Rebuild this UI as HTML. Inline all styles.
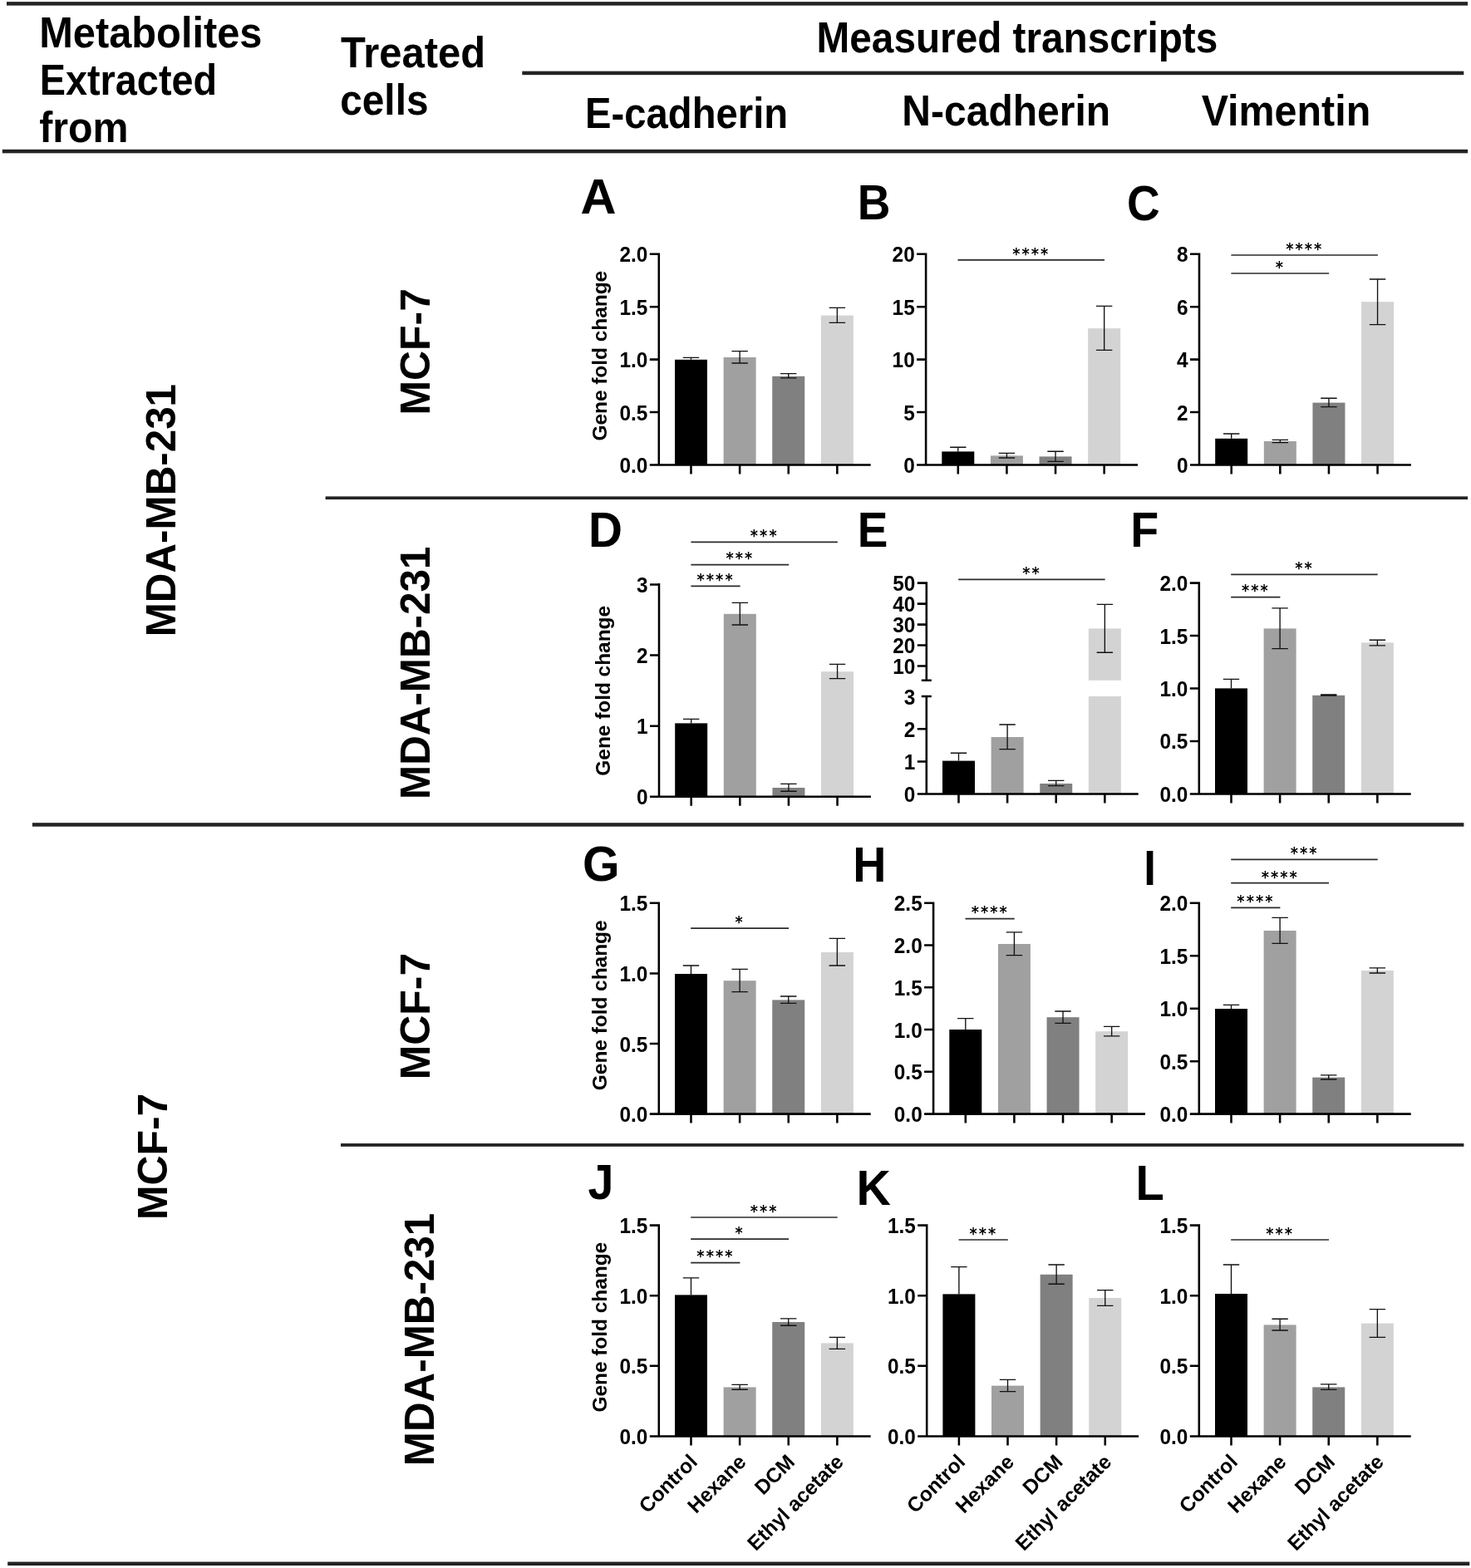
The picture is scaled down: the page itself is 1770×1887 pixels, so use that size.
<!DOCTYPE html>
<html lang="en">
<head>
<meta charset="utf-8">
<title>Gene fold change of EMT transcripts</title>
<style>
html,body{margin:0;padding:0;background:#fff;}
body{width:1770px;height:1887px;overflow:hidden;}
svg{display:block;}
svg text{font-family:"Liberation Sans",sans-serif;font-weight:bold;fill:#000;}
svg text.st{font-family:"DejaVu Sans","Liberation Sans",sans-serif;font-weight:bold;font-size:19.6px;letter-spacing:2.29px;}
</style>
</head>
<body>
<svg width="1770" height="1887" viewBox="0 0 1770 1887">
<rect width="1770" height="1887" fill="#ffffff"/>
<rect x="8" y="2.15" width="1758.1" height="4.5" fill="#232323"/>
<rect x="628.3" y="85.65" width="1133" height="4.5" fill="#232323"/>
<rect x="2.8" y="179.85" width="1763.3" height="4.5" fill="#232323"/>
<rect x="391.6" y="597.4" width="1374.5" height="3.7" fill="#232323"/>
<rect x="38.9" y="990.2" width="1722.5" height="4.5" fill="#232323"/>
<rect x="410" y="1376.05" width="1351.4" height="3.8" fill="#232323"/>
<rect x="9.2" y="1879.55" width="1759.1" height="4.5" fill="#232323"/>
<text x="47.24" y="57.4" font-size="51.5" textLength="268.26" lengthAdjust="spacingAndGlyphs">Metabolites</text>
<text x="47.77" y="114.1" font-size="51.5" textLength="213.32" lengthAdjust="spacingAndGlyphs">Extracted</text>
<text x="47.17" y="171" font-size="51.5" textLength="107.42" lengthAdjust="spacingAndGlyphs">from</text>
<text x="410.06" y="81" font-size="51.5" textLength="174.12" lengthAdjust="spacingAndGlyphs">Treated</text>
<text x="409.13" y="137.5" font-size="51.5" textLength="106.43" lengthAdjust="spacingAndGlyphs">cells</text>
<text x="982.56" y="63.1" font-size="51.5" textLength="482.7" lengthAdjust="spacingAndGlyphs">Measured transcripts</text>
<text x="704.04" y="153.75" font-size="51.5" textLength="244.09" lengthAdjust="spacingAndGlyphs">E-cadherin</text>
<text x="1085.29" y="151.1" font-size="51.5" textLength="250.94" lengthAdjust="spacingAndGlyphs">N-cadherin</text>
<text x="1445.67" y="151.25" font-size="51.5" textLength="203.57" lengthAdjust="spacingAndGlyphs">Vimentin</text>
<text transform="translate(210.8 614.1) rotate(-90)" font-size="49.35" text-anchor="middle">MDA-MB-231</text>
<text transform="translate(200.5 1391.9) rotate(-90)" font-size="49.9" text-anchor="middle">MCF-7</text>
<text transform="translate(517 423.3) rotate(-90)" font-size="49.9" text-anchor="middle">MCF-7</text>
<text transform="translate(517 809.8) rotate(-90)" font-size="49.35" text-anchor="middle">MDA-MB-231</text>
<text transform="translate(517 1223) rotate(-90)" font-size="49.9" text-anchor="middle">MCF-7</text>
<text transform="translate(522 1612) rotate(-90)" font-size="49.35" text-anchor="middle">MDA-MB-231</text>
<rect x="812" y="432.8" width="39" height="126.7" fill="#000000"/>
<rect x="870.62" y="430" width="39" height="129.5" fill="#a0a0a0"/>
<rect x="929.24" y="452.8" width="39" height="106.7" fill="#808080"/>
<rect x="987.86" y="379.6" width="39" height="179.9" fill="#d3d3d3"/>
<path d="M821.8 430.3H841.2M831.5 430.3V432.8" stroke="#111111" stroke-width="1.35" fill="none"/>
<path d="M880.42 422.6H899.82M890.12 422.6V437M880.42 437H899.82" stroke="#111111" stroke-width="1.35" fill="none"/>
<path d="M939.04 449.6H958.44M948.74 449.6V454.8M939.04 454.8H958.44" stroke="#111111" stroke-width="1.35" fill="none"/>
<path d="M997.66 370.4H1017.06M1007.36 370.4V388.4M997.66 388.4H1017.06" stroke="#111111" stroke-width="1.35" fill="none"/>
<path d="M781.8 559.5H1047.7M831.5 559.5V570.5M890.12 559.5V570.5M948.74 559.5V570.5M1007.36 559.5V570.5M792.8 559.5V304.43M781.8 496.05H792.8M781.8 432.6H792.8M781.8 369.15H792.8M781.8 305.7H792.8" stroke="#000" stroke-width="2.55" fill="none"/>
<text transform="translate(779.4 569) scale(1 1.03)" font-size="24.4" text-anchor="end">0.0</text>
<text transform="translate(779.4 505.55) scale(1 1.03)" font-size="24.4" text-anchor="end">0.5</text>
<text transform="translate(779.4 442.1) scale(1 1.03)" font-size="24.4" text-anchor="end">1.0</text>
<text transform="translate(779.4 378.65) scale(1 1.03)" font-size="24.4" text-anchor="end">1.5</text>
<text transform="translate(779.4 315.2) scale(1 1.03)" font-size="24.4" text-anchor="end">2.0</text>
<text transform="translate(730.4 428.2) rotate(-90)" font-size="24.4" text-anchor="middle">Gene fold change</text>
<text transform="translate(698.42 257) scale(1.04 1.03)" font-size="57.3">A</text>
<rect x="1133.3" y="543.4" width="39" height="16.1" fill="#000000"/>
<rect x="1191.92" y="548.4" width="39" height="11.1" fill="#a0a0a0"/>
<rect x="1250.54" y="549.4" width="39" height="10.1" fill="#808080"/>
<rect x="1309.16" y="395.2" width="39" height="164.3" fill="#d3d3d3"/>
<path d="M1143.1 538.2H1162.5M1152.8 538.2V543.4" stroke="#111111" stroke-width="1.35" fill="none"/>
<path d="M1201.72 545.4H1221.12M1211.42 545.4V551M1201.72 551H1221.12" stroke="#111111" stroke-width="1.35" fill="none"/>
<path d="M1260.34 543.2H1279.74M1270.04 543.2V555.4M1260.34 555.4H1279.74" stroke="#111111" stroke-width="1.35" fill="none"/>
<path d="M1318.96 368.4H1338.36M1328.66 368.4V421.4M1318.96 421.4H1338.36" stroke="#111111" stroke-width="1.35" fill="none"/>
<path d="M1103.1 559.5H1369M1152.8 559.5V570.5M1211.42 559.5V570.5M1270.04 559.5V570.5M1328.66 559.5V570.5M1114.1 559.5V304.43M1103.1 496.05H1114.1M1103.1 432.6H1114.1M1103.1 369.15H1114.1M1103.1 305.7H1114.1" stroke="#000" stroke-width="2.55" fill="none"/>
<text transform="translate(1100.7 569) scale(1 1.03)" font-size="24.4" text-anchor="end">0</text>
<text transform="translate(1100.7 505.55) scale(1 1.03)" font-size="24.4" text-anchor="end">5</text>
<text transform="translate(1100.7 442.1) scale(1 1.03)" font-size="24.4" text-anchor="end">10</text>
<text transform="translate(1100.7 378.65) scale(1 1.03)" font-size="24.4" text-anchor="end">15</text>
<text transform="translate(1100.7 315.2) scale(1 1.03)" font-size="24.4" text-anchor="end">20</text>
<line x1="1152.5" y1="312.8" x2="1328.96" y2="312.8" stroke="#2a2a2a" stroke-width="1.7"/>
<text class="st" transform="translate(1218.29 311.65) scale(0.9 1)">****</text>
<text transform="translate(1031.64 264.4) scale(0.96 1.03)" font-size="57.3">B</text>
<rect x="1462.2" y="527.8" width="39" height="31.7" fill="#000000"/>
<rect x="1520.82" y="531" width="39" height="28.5" fill="#a0a0a0"/>
<rect x="1579.44" y="484.6" width="39" height="74.9" fill="#808080"/>
<rect x="1638.06" y="363.2" width="39" height="196.3" fill="#d3d3d3"/>
<path d="M1472 522H1491.4M1481.7 522V527.8" stroke="#111111" stroke-width="1.35" fill="none"/>
<path d="M1530.62 529.4H1550.02M1540.32 529.4V532.6M1530.62 532.6H1550.02" stroke="#111111" stroke-width="1.35" fill="none"/>
<path d="M1589.24 479.2H1608.64M1598.94 479.2V489.6M1589.24 489.6H1608.64" stroke="#111111" stroke-width="1.35" fill="none"/>
<path d="M1647.86 336H1667.26M1657.56 336V390.6M1647.86 390.6H1667.26" stroke="#111111" stroke-width="1.35" fill="none"/>
<path d="M1432 559.5H1697.9M1481.7 559.5V570.5M1540.32 559.5V570.5M1598.94 559.5V570.5M1657.56 559.5V570.5M1443 559.5V304.43M1432 496.05H1443M1432 432.6H1443M1432 369.15H1443M1432 305.7H1443" stroke="#000" stroke-width="2.55" fill="none"/>
<text transform="translate(1429.6 569) scale(1 1.03)" font-size="24.4" text-anchor="end">0</text>
<text transform="translate(1429.6 505.55) scale(1 1.03)" font-size="24.4" text-anchor="end">2</text>
<text transform="translate(1429.6 442.1) scale(1 1.03)" font-size="24.4" text-anchor="end">4</text>
<text transform="translate(1429.6 378.65) scale(1 1.03)" font-size="24.4" text-anchor="end">6</text>
<text transform="translate(1429.6 315.2) scale(1 1.03)" font-size="24.4" text-anchor="end">8</text>
<line x1="1481.4" y1="307" x2="1657.86" y2="307" stroke="#2a2a2a" stroke-width="1.7"/>
<text class="st" transform="translate(1547.19 305.85) scale(0.9 1)">****</text>
<line x1="1481.4" y1="329" x2="1599.24" y2="329" stroke="#2a2a2a" stroke-width="1.7"/>
<text class="st" transform="translate(1534.81 327.85) scale(0.9 1)">*</text>
<text transform="translate(1356.05 264.6) scale(0.96 1.03)" font-size="57.3">C</text>
<rect x="812.2" y="870.4" width="39" height="88.4" fill="#000000"/>
<rect x="870.82" y="738.8" width="39" height="220" fill="#a0a0a0"/>
<rect x="929.44" y="948" width="39" height="10.8" fill="#808080"/>
<rect x="988.06" y="808.2" width="39" height="150.6" fill="#d3d3d3"/>
<path d="M822 865.4H841.4M831.7 865.4V870.4" stroke="#111111" stroke-width="1.35" fill="none"/>
<path d="M880.62 725.4H900.02M890.32 725.4V752M880.62 752H900.02" stroke="#111111" stroke-width="1.35" fill="none"/>
<path d="M939.24 943.4H958.64M948.94 943.4V952.2M939.24 952.2H958.64" stroke="#111111" stroke-width="1.35" fill="none"/>
<path d="M997.86 799.4H1017.26M1007.56 799.4V816.6M997.86 816.6H1017.26" stroke="#111111" stroke-width="1.35" fill="none"/>
<path d="M782 958.8H1047.9M831.7 958.8V969.8M890.32 958.8V969.8M948.94 958.8V969.8M1007.56 958.8V969.8M793 958.8V702.12M782 873.67H793M782 788.53H793M782 703.4H793" stroke="#000" stroke-width="2.55" fill="none"/>
<text transform="translate(779.6 968.3) scale(1 1.03)" font-size="24.4" text-anchor="end">0</text>
<text transform="translate(779.6 883.17) scale(1 1.03)" font-size="24.4" text-anchor="end">1</text>
<text transform="translate(779.6 798.03) scale(1 1.03)" font-size="24.4" text-anchor="end">2</text>
<text transform="translate(779.6 712.9) scale(1 1.03)" font-size="24.4" text-anchor="end">3</text>
<text transform="translate(734 831.3) rotate(-90)" font-size="24.4" text-anchor="middle">Gene fold change</text>
<line x1="831.4" y1="652.4" x2="1007.86" y2="652.4" stroke="#2a2a2a" stroke-width="1.7"/>
<text class="st" transform="translate(902.83 651.25) scale(0.9 1)">***</text>
<line x1="831.4" y1="679.6" x2="949.24" y2="679.6" stroke="#2a2a2a" stroke-width="1.7"/>
<text class="st" transform="translate(873.52 678.45) scale(0.9 1)">***</text>
<line x1="831.4" y1="705.4" x2="890.62" y2="705.4" stroke="#2a2a2a" stroke-width="1.7"/>
<text class="st" transform="translate(838.57 704.05) scale(0.9 1)">****</text>
<text transform="translate(708.1 658) scale(0.99 1.03)" font-size="57.3">D</text>
<rect x="1134" y="915.6" width="39" height="39.8" fill="#000000"/>
<rect x="1192.62" y="887" width="39" height="68.4" fill="#a0a0a0"/>
<rect x="1251.24" y="943" width="39" height="12.4" fill="#808080"/>
<rect x="1309.86" y="838" width="39" height="117.4" fill="#d3d3d3"/>
<rect x="1309.86" y="756.4" width="39" height="62.4" fill="#d3d3d3"/>
<path d="M1143.8 906.2H1163.2M1153.5 906.2V915.6" stroke="#111111" stroke-width="1.35" fill="none"/>
<path d="M1202.42 872H1221.82M1212.12 872V901.6M1202.42 901.6H1221.82" stroke="#111111" stroke-width="1.35" fill="none"/>
<path d="M1261.04 939.4H1280.44M1270.74 939.4V945.6M1261.04 945.6H1280.44" stroke="#111111" stroke-width="1.35" fill="none"/>
<path d="M1319.66 727.4H1339.06M1329.36 727.4V785.2M1319.66 785.2H1339.06" stroke="#111111" stroke-width="1.35" fill="none"/>
<path d="M1103.8 955.4H1369.7M1153.5 955.4V966.4M1212.12 955.4V966.4M1270.74 955.4V966.4M1329.36 955.4V966.4M1114.8 955.4V836.73M1108.8 838H1120.8M1114.8 820.07V700.33M1108.8 818.8H1120.8M1103.8 916.4H1114.8M1103.8 877.2H1114.8M1103.8 801.4H1114.8M1103.8 776.4H1114.8M1103.8 751.6H1114.8M1103.8 726.6H1114.8M1103.8 701.6H1114.8" stroke="#000" stroke-width="2.55" fill="none"/>
<text transform="translate(1101.4 964.9) scale(1 1.03)" font-size="24.4" text-anchor="end">0</text>
<text transform="translate(1101.4 925.9) scale(1 1.03)" font-size="24.4" text-anchor="end">1</text>
<text transform="translate(1101.4 886.7) scale(1 1.03)" font-size="24.4" text-anchor="end">2</text>
<text transform="translate(1101.4 847.5) scale(1 1.03)" font-size="24.4" text-anchor="end">3</text>
<text transform="translate(1101.4 810.9) scale(1 1.03)" font-size="24.4" text-anchor="end">10</text>
<text transform="translate(1101.4 785.9) scale(1 1.03)" font-size="24.4" text-anchor="end">20</text>
<text transform="translate(1101.4 761.1) scale(1 1.03)" font-size="24.4" text-anchor="end">30</text>
<text transform="translate(1101.4 736.1) scale(1 1.03)" font-size="24.4" text-anchor="end">40</text>
<text transform="translate(1101.4 711.1) scale(1 1.03)" font-size="24.4" text-anchor="end">50</text>
<line x1="1153.2" y1="697.4" x2="1329.66" y2="697.4" stroke="#2a2a2a" stroke-width="1.7"/>
<text class="st" transform="translate(1230.27 696.25) scale(0.9 1)">**</text>
<text transform="translate(1031.63 658) scale(0.96 1.03)" font-size="57.3">E</text>
<rect x="1462" y="828.4" width="39" height="127" fill="#000000"/>
<rect x="1520.62" y="756.4" width="39" height="199" fill="#a0a0a0"/>
<rect x="1579.24" y="836.8" width="39" height="118.6" fill="#808080"/>
<rect x="1637.86" y="773.4" width="39" height="182" fill="#d3d3d3"/>
<path d="M1471.8 817.4H1491.2M1481.5 817.4V828.4" stroke="#111111" stroke-width="1.35" fill="none"/>
<path d="M1530.42 731.8H1549.82M1540.12 731.8V780.6M1530.42 780.6H1549.82" stroke="#111111" stroke-width="1.35" fill="none"/>
<path d="M1589.04 835.9H1608.44M1598.74 835.9V837.1M1589.04 837.1H1608.44" stroke="#111111" stroke-width="1.35" fill="none"/>
<path d="M1647.66 770.2H1667.06M1657.36 770.2V776.8M1647.66 776.8H1667.06" stroke="#111111" stroke-width="1.35" fill="none"/>
<path d="M1431.8 955.4H1697.7M1481.5 955.4V966.4M1540.12 955.4V966.4M1598.74 955.4V966.4M1657.36 955.4V966.4M1442.8 955.4V700.33M1431.8 891.95H1442.8M1431.8 828.5H1442.8M1431.8 765.05H1442.8M1431.8 701.6H1442.8" stroke="#000" stroke-width="2.55" fill="none"/>
<text transform="translate(1429.4 964.9) scale(1 1.03)" font-size="24.4" text-anchor="end">0.0</text>
<text transform="translate(1429.4 901.45) scale(1 1.03)" font-size="24.4" text-anchor="end">0.5</text>
<text transform="translate(1429.4 838) scale(1 1.03)" font-size="24.4" text-anchor="end">1.0</text>
<text transform="translate(1429.4 774.55) scale(1 1.03)" font-size="24.4" text-anchor="end">1.5</text>
<text transform="translate(1429.4 711.1) scale(1 1.03)" font-size="24.4" text-anchor="end">2.0</text>
<line x1="1481.2" y1="691.4" x2="1657.66" y2="691.4" stroke="#2a2a2a" stroke-width="1.7"/>
<text class="st" transform="translate(1558.27 690.25) scale(0.9 1)">**</text>
<line x1="1481.2" y1="718.6" x2="1540.42" y2="718.6" stroke="#2a2a2a" stroke-width="1.7"/>
<text class="st" transform="translate(1494.01 717.25) scale(0.9 1)">***</text>
<text transform="translate(1360.18 658) scale(0.97 1.03)" font-size="57.3">F</text>
<rect x="812" y="1172" width="39" height="168.6" fill="#000000"/>
<rect x="870.62" y="1180.2" width="39" height="160.4" fill="#a0a0a0"/>
<rect x="929.24" y="1203.4" width="39" height="137.2" fill="#808080"/>
<rect x="987.86" y="1146" width="39" height="194.6" fill="#d3d3d3"/>
<path d="M821.8 1162H841.2M831.5 1162V1172" stroke="#111111" stroke-width="1.35" fill="none"/>
<path d="M880.42 1166.4H899.82M890.12 1166.4V1193.6M880.42 1193.6H899.82" stroke="#111111" stroke-width="1.35" fill="none"/>
<path d="M939.04 1199H958.44M948.74 1199V1207.4M939.04 1207.4H958.44" stroke="#111111" stroke-width="1.35" fill="none"/>
<path d="M997.66 1129.4H1017.06M1007.36 1129.4V1162M997.66 1162H1017.06" stroke="#111111" stroke-width="1.35" fill="none"/>
<path d="M781.8 1340.6H1047.7M831.5 1340.6V1351.6M890.12 1340.6V1351.6M948.74 1340.6V1351.6M1007.36 1340.6V1351.6M792.8 1340.6V1085.52M781.8 1256H792.8M781.8 1171.4H792.8M781.8 1086.8H792.8" stroke="#000" stroke-width="2.55" fill="none"/>
<text transform="translate(779.4 1350.1) scale(1 1.03)" font-size="24.4" text-anchor="end">0.0</text>
<text transform="translate(779.4 1265.5) scale(1 1.03)" font-size="24.4" text-anchor="end">0.5</text>
<text transform="translate(779.4 1180.9) scale(1 1.03)" font-size="24.4" text-anchor="end">1.0</text>
<text transform="translate(779.4 1096.3) scale(1 1.03)" font-size="24.4" text-anchor="end">1.5</text>
<text transform="translate(730.2 1209.8) rotate(-90)" font-size="24.4" text-anchor="middle">Gene fold change</text>
<line x1="831.2" y1="1117.2" x2="949.04" y2="1117.2" stroke="#2a2a2a" stroke-width="1.7"/>
<text class="st" transform="translate(884.61 1116.25) scale(0.9 1)">*</text>
<text transform="translate(700.95 1060) scale(1 1.03)" font-size="57.3">G</text>
<rect x="1142.3" y="1239" width="39" height="101.6" fill="#000000"/>
<rect x="1200.92" y="1136" width="39" height="204.6" fill="#a0a0a0"/>
<rect x="1259.54" y="1224.2" width="39" height="116.4" fill="#808080"/>
<rect x="1318.16" y="1241.2" width="39" height="99.4" fill="#d3d3d3"/>
<path d="M1152.1 1225.6H1171.5M1161.8 1225.6V1239" stroke="#111111" stroke-width="1.35" fill="none"/>
<path d="M1210.72 1121.8H1230.12M1220.42 1121.8V1149.6M1210.72 1149.6H1230.12" stroke="#111111" stroke-width="1.35" fill="none"/>
<path d="M1269.34 1217H1288.74M1279.04 1217V1231.4M1269.34 1231.4H1288.74" stroke="#111111" stroke-width="1.35" fill="none"/>
<path d="M1327.96 1235.4H1347.36M1337.66 1235.4V1246.8M1327.96 1246.8H1347.36" stroke="#111111" stroke-width="1.35" fill="none"/>
<path d="M1112.1 1340.6H1378M1161.8 1340.6V1351.6M1220.42 1340.6V1351.6M1279.04 1340.6V1351.6M1337.66 1340.6V1351.6M1123.1 1340.6V1085.52M1112.1 1289.84H1123.1M1112.1 1239.08H1123.1M1112.1 1188.32H1123.1M1112.1 1137.56H1123.1M1112.1 1086.8H1123.1" stroke="#000" stroke-width="2.55" fill="none"/>
<text transform="translate(1109.7 1350.1) scale(1 1.03)" font-size="24.4" text-anchor="end">0.0</text>
<text transform="translate(1109.7 1299.34) scale(1 1.03)" font-size="24.4" text-anchor="end">0.5</text>
<text transform="translate(1109.7 1248.58) scale(1 1.03)" font-size="24.4" text-anchor="end">1.0</text>
<text transform="translate(1109.7 1197.82) scale(1 1.03)" font-size="24.4" text-anchor="end">1.5</text>
<text transform="translate(1109.7 1147.06) scale(1 1.03)" font-size="24.4" text-anchor="end">2.0</text>
<text transform="translate(1109.7 1096.3) scale(1 1.03)" font-size="24.4" text-anchor="end">2.5</text>
<line x1="1161.5" y1="1105.6" x2="1220.72" y2="1105.6" stroke="#2a2a2a" stroke-width="1.7"/>
<text class="st" transform="translate(1168.67 1104.25) scale(0.9 1)">****</text>
<text transform="translate(1026.17 1061) scale(0.97 1.03)" font-size="57.3">H</text>
<rect x="1462" y="1214" width="39" height="126.6" fill="#000000"/>
<rect x="1520.62" y="1120" width="39" height="220.6" fill="#a0a0a0"/>
<rect x="1579.24" y="1296.6" width="39" height="44" fill="#808080"/>
<rect x="1637.86" y="1168" width="39" height="172.6" fill="#d3d3d3"/>
<path d="M1471.8 1209.4H1491.2M1481.5 1209.4V1214" stroke="#111111" stroke-width="1.35" fill="none"/>
<path d="M1530.42 1104.4H1549.82M1540.12 1104.4V1135.4M1530.42 1135.4H1549.82" stroke="#111111" stroke-width="1.35" fill="none"/>
<path d="M1589.04 1293.8H1608.44M1598.74 1293.8V1299M1589.04 1299H1608.44" stroke="#111111" stroke-width="1.35" fill="none"/>
<path d="M1647.66 1164.8H1667.06M1657.36 1164.8V1171M1647.66 1171H1667.06" stroke="#111111" stroke-width="1.35" fill="none"/>
<path d="M1431.8 1340.6H1697.7M1481.5 1340.6V1351.6M1540.12 1340.6V1351.6M1598.74 1340.6V1351.6M1657.36 1340.6V1351.6M1442.8 1340.6V1085.52M1431.8 1277.15H1442.8M1431.8 1213.7H1442.8M1431.8 1150.25H1442.8M1431.8 1086.8H1442.8" stroke="#000" stroke-width="2.55" fill="none"/>
<text transform="translate(1429.4 1350.1) scale(1 1.03)" font-size="24.4" text-anchor="end">0.0</text>
<text transform="translate(1429.4 1286.65) scale(1 1.03)" font-size="24.4" text-anchor="end">0.5</text>
<text transform="translate(1429.4 1223.2) scale(1 1.03)" font-size="24.4" text-anchor="end">1.0</text>
<text transform="translate(1429.4 1159.75) scale(1 1.03)" font-size="24.4" text-anchor="end">1.5</text>
<text transform="translate(1429.4 1096.3) scale(1 1.03)" font-size="24.4" text-anchor="end">2.0</text>
<line x1="1481.2" y1="1034.4" x2="1657.66" y2="1034.4" stroke="#2a2a2a" stroke-width="1.7"/>
<text class="st" transform="translate(1552.63 1032.85) scale(0.9 1)">***</text>
<line x1="1481.2" y1="1062.6" x2="1599.04" y2="1062.6" stroke="#2a2a2a" stroke-width="1.7"/>
<text class="st" transform="translate(1517.68 1061.65) scale(0.9 1)">****</text>
<line x1="1481.2" y1="1092.4" x2="1540.42" y2="1092.4" stroke="#2a2a2a" stroke-width="1.7"/>
<text class="st" transform="translate(1488.37 1091.25) scale(0.9 1)">****</text>
<text transform="translate(1376.17 1064.6) scale(0.92 1.03)" font-size="57.3">I</text>
<rect x="812" y="1558.4" width="39" height="170" fill="#000000"/>
<rect x="870.62" y="1669.4" width="39" height="59" fill="#a0a0a0"/>
<rect x="929.24" y="1591" width="39" height="137.4" fill="#808080"/>
<rect x="987.86" y="1616.4" width="39" height="112" fill="#d3d3d3"/>
<path d="M821.8 1537.8H841.2M831.5 1537.8V1558.4" stroke="#111111" stroke-width="1.35" fill="none"/>
<path d="M880.42 1666.4H899.82M890.12 1666.4V1672.2M880.42 1672.2H899.82" stroke="#111111" stroke-width="1.35" fill="none"/>
<path d="M939.04 1586.8H958.44M948.74 1586.8V1595.2M939.04 1595.2H958.44" stroke="#111111" stroke-width="1.35" fill="none"/>
<path d="M997.66 1609.4H1017.06M1007.36 1609.4V1623.4M997.66 1623.4H1017.06" stroke="#111111" stroke-width="1.35" fill="none"/>
<path d="M781.8 1728.4H1047.7M831.5 1728.4V1739.4M890.12 1728.4V1739.4M948.74 1728.4V1739.4M1007.36 1728.4V1739.4M792.8 1728.4V1473.32M781.8 1643.8H792.8M781.8 1559.2H792.8M781.8 1474.6H792.8" stroke="#000" stroke-width="2.55" fill="none"/>
<text transform="translate(779.4 1737.9) scale(1 1.03)" font-size="24.4" text-anchor="end">0.0</text>
<text transform="translate(779.4 1653.3) scale(1 1.03)" font-size="24.4" text-anchor="end">0.5</text>
<text transform="translate(779.4 1568.7) scale(1 1.03)" font-size="24.4" text-anchor="end">1.0</text>
<text transform="translate(779.4 1484.1) scale(1 1.03)" font-size="24.4" text-anchor="end">1.5</text>
<text transform="translate(730.2 1597.2) rotate(-90)" font-size="24.4" text-anchor="middle">Gene fold change</text>
<line x1="831.2" y1="1465" x2="1007.66" y2="1465" stroke="#2a2a2a" stroke-width="1.7"/>
<text class="st" transform="translate(902.63 1463.85) scale(0.9 1)">***</text>
<line x1="831.2" y1="1491.2" x2="949.04" y2="1491.2" stroke="#2a2a2a" stroke-width="1.7"/>
<text class="st" transform="translate(884.61 1489.85) scale(0.9 1)">*</text>
<line x1="831.2" y1="1519.6" x2="890.42" y2="1519.6" stroke="#2a2a2a" stroke-width="1.7"/>
<text class="st" transform="translate(838.37 1518.25) scale(0.9 1)">****</text>
<text transform="translate(707.45 1443) scale(0.97 1.03)" font-size="57.3">J</text>
<text transform="translate(840.5 1760.8) rotate(-45) scale(1 1.01)" font-size="24.5" text-anchor="end">Control</text>
<text transform="translate(899.12 1760.8) rotate(-45) scale(1 1.01)" font-size="24.5" text-anchor="end">Hexane</text>
<text transform="translate(957.74 1760.8) rotate(-45) scale(1 1.01)" font-size="24.5" text-anchor="end">DCM</text>
<text transform="translate(1016.36 1760.8) rotate(-45) scale(1 1.01)" font-size="24.5" text-anchor="end">Ethyl acetate</text>
<rect x="1134.4" y="1557.4" width="39" height="171" fill="#000000"/>
<rect x="1193.02" y="1667.6" width="39" height="60.8" fill="#a0a0a0"/>
<rect x="1251.64" y="1533.8" width="39" height="194.6" fill="#808080"/>
<rect x="1310.26" y="1562" width="39" height="166.4" fill="#d3d3d3"/>
<path d="M1144.2 1524.6H1163.6M1153.9 1524.6V1557.4" stroke="#111111" stroke-width="1.35" fill="none"/>
<path d="M1202.82 1660.4H1222.22M1212.52 1660.4V1674.6M1202.82 1674.6H1222.22" stroke="#111111" stroke-width="1.35" fill="none"/>
<path d="M1261.44 1522H1280.84M1271.14 1522V1545.2M1261.44 1545.2H1280.84" stroke="#111111" stroke-width="1.35" fill="none"/>
<path d="M1320.06 1552.6H1339.46M1329.76 1552.6V1571.4M1320.06 1571.4H1339.46" stroke="#111111" stroke-width="1.35" fill="none"/>
<path d="M1104.2 1728.4H1370.1M1153.9 1728.4V1739.4M1212.52 1728.4V1739.4M1271.14 1728.4V1739.4M1329.76 1728.4V1739.4M1115.2 1728.4V1473.32M1104.2 1643.8H1115.2M1104.2 1559.2H1115.2M1104.2 1474.6H1115.2" stroke="#000" stroke-width="2.55" fill="none"/>
<text transform="translate(1101.8 1737.9) scale(1 1.03)" font-size="24.4" text-anchor="end">0.0</text>
<text transform="translate(1101.8 1653.3) scale(1 1.03)" font-size="24.4" text-anchor="end">0.5</text>
<text transform="translate(1101.8 1568.7) scale(1 1.03)" font-size="24.4" text-anchor="end">1.0</text>
<text transform="translate(1101.8 1484.1) scale(1 1.03)" font-size="24.4" text-anchor="end">1.5</text>
<line x1="1153.6" y1="1492" x2="1212.82" y2="1492" stroke="#2a2a2a" stroke-width="1.7"/>
<text class="st" transform="translate(1166.41 1490.65) scale(0.9 1)">***</text>
<text transform="translate(1030.47 1450) scale(1 1.03)" font-size="57.3">K</text>
<text transform="translate(1162.9 1760.8) rotate(-45) scale(1 1.01)" font-size="24.5" text-anchor="end">Control</text>
<text transform="translate(1221.52 1760.8) rotate(-45) scale(1 1.01)" font-size="24.5" text-anchor="end">Hexane</text>
<text transform="translate(1280.14 1760.8) rotate(-45) scale(1 1.01)" font-size="24.5" text-anchor="end">DCM</text>
<text transform="translate(1338.76 1760.8) rotate(-45) scale(1 1.01)" font-size="24.5" text-anchor="end">Ethyl acetate</text>
<rect x="1462" y="1557" width="39" height="171.4" fill="#000000"/>
<rect x="1520.62" y="1594.4" width="39" height="134" fill="#a0a0a0"/>
<rect x="1579.24" y="1669.4" width="39" height="59" fill="#808080"/>
<rect x="1637.86" y="1592.6" width="39" height="135.8" fill="#d3d3d3"/>
<path d="M1471.8 1522H1491.2M1481.5 1522V1557" stroke="#111111" stroke-width="1.35" fill="none"/>
<path d="M1530.42 1587.2H1549.82M1540.12 1587.2V1601M1530.42 1601H1549.82" stroke="#111111" stroke-width="1.35" fill="none"/>
<path d="M1589.04 1665.8H1608.44M1598.74 1665.8V1672.4M1589.04 1672.4H1608.44" stroke="#111111" stroke-width="1.35" fill="none"/>
<path d="M1647.66 1575.6H1667.06M1657.36 1575.6V1609.4M1647.66 1609.4H1667.06" stroke="#111111" stroke-width="1.35" fill="none"/>
<path d="M1431.8 1728.4H1697.7M1481.5 1728.4V1739.4M1540.12 1728.4V1739.4M1598.74 1728.4V1739.4M1657.36 1728.4V1739.4M1442.8 1728.4V1473.32M1431.8 1643.8H1442.8M1431.8 1559.2H1442.8M1431.8 1474.6H1442.8" stroke="#000" stroke-width="2.55" fill="none"/>
<text transform="translate(1429.4 1737.9) scale(1 1.03)" font-size="24.4" text-anchor="end">0.0</text>
<text transform="translate(1429.4 1653.3) scale(1 1.03)" font-size="24.4" text-anchor="end">0.5</text>
<text transform="translate(1429.4 1568.7) scale(1 1.03)" font-size="24.4" text-anchor="end">1.0</text>
<text transform="translate(1429.4 1484.1) scale(1 1.03)" font-size="24.4" text-anchor="end">1.5</text>
<line x1="1481.2" y1="1492" x2="1599.04" y2="1492" stroke="#2a2a2a" stroke-width="1.7"/>
<text class="st" transform="translate(1523.32 1490.65) scale(0.9 1)">***</text>
<text transform="translate(1366.55 1443.6) scale(0.98 1.03)" font-size="57.3">L</text>
<text transform="translate(1490.5 1760.8) rotate(-45) scale(1 1.01)" font-size="24.5" text-anchor="end">Control</text>
<text transform="translate(1549.12 1760.8) rotate(-45) scale(1 1.01)" font-size="24.5" text-anchor="end">Hexane</text>
<text transform="translate(1607.74 1760.8) rotate(-45) scale(1 1.01)" font-size="24.5" text-anchor="end">DCM</text>
<text transform="translate(1666.36 1760.8) rotate(-45) scale(1 1.01)" font-size="24.5" text-anchor="end">Ethyl acetate</text>
</svg>
</body>
</html>
